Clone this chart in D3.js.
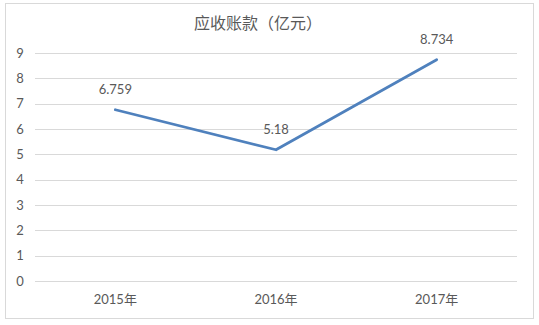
<!DOCTYPE html>
<meta charset="utf-8">
<head>
    <script src="https://d3js.org/d3.v7.min.js"></script>
    <style>
        body { margin: 0; background: #fff; }
        text { font-family: Lato, "Noto Sans CJK SC", sans-serif; fill: #595959; }
    </style>
</head>
<body>
<div id="chart"></div>
<script>
    // data
    var years = ["2015年", "2016年", "2017年"];
    var values = [6.759, 5.18, 8.734];
    var valueLabels = ["6.759", "5.18", "8.734"];
    var yTicks = [0, 1, 2, 3, 4, 5, 6, 7, 8, 9];
    var title = "应收账款（亿元）";

    var W = 539, H = 325;
    var margin = {top: 53, right: 22, bottom: 44, left: 35},
        width = 517 - margin.left,
        height = 281 - margin.top;

    var root = d3.select("#chart").append("svg")
        .attr("width", W)
        .attr("height", H);

    // outer chart frame
    root.append("rect")
        .attr("x", 5.5).attr("y", 3.5)
        .attr("width", 528).attr("height", 315)
        .attr("fill", "#fff")
        .attr("stroke", "#d9d9d9");

    root.append("text")
        .attr("x", 258).attr("y", 29)
        .style("text-anchor", "middle")
        .style("font-size", "16px")
        .text(title);

    var svg = root.append("g")
        .attr("transform", "translate(" + margin.left + "," + margin.top + ")");

    var x = d3.scaleBand().domain(years).range([0, width]);
    var y = d3.scaleLinear().domain([0, 9]).range([height, 0]);

    // gridlines
    svg.selectAll(".grid")
        .data(yTicks)
        .enter().append("line")
        .attr("x1", 0).attr("x2", width)
        .attr("y1", function(d) { return Math.round(y(d)) + 0.5; })
        .attr("y2", function(d) { return Math.round(y(d)) + 0.5; })
        .attr("stroke", "#d9d9d9")
        .attr("stroke-width", 1);

    svg.selectAll(".ytick")
        .data(yTicks)
        .enter().append("text")
        .attr("x", -15)
        .attr("y", function(d) { return y(d); })
        .attr("dy", ".35em")
        .style("text-anchor", "middle")
        .style("font-size", "13px")
        .text(function(d) { return d; });

    svg.selectAll(".xtick")
        .data(years)
        .enter().append("text")
        .attr("x", function(d) { return x(d) + x.bandwidth() / 2; })
        .attr("y", height + 23)
        .style("text-anchor", "middle")
        .style("font-size", "13px")
        .text(function(d) { return d; });

    var line = d3.line()
        .x(function(d, i) { return x(years[i]) + x.bandwidth() / 2; })
        .y(function(d) { return y(d); });

    svg.append("path")
        .datum(values)
        .attr("d", line)
        .attr("fill", "none")
        .attr("stroke", "#4f81bd")
        .attr("stroke-width", 2.75)
        .attr("stroke-linejoin", "round")
        .attr("stroke-linecap", "round");

    svg.selectAll(".vlabel")
        .data(values)
        .enter().append("text")
        .attr("x", function(d, i) { return x(years[i]) + x.bandwidth() / 2; })
        .attr("y", function(d) { return y(d) - 16; })
        .style("text-anchor", "middle")
        .style("font-size", "13px")
        .text(function(d, i) { return valueLabels[i]; });
</script>
</body>
